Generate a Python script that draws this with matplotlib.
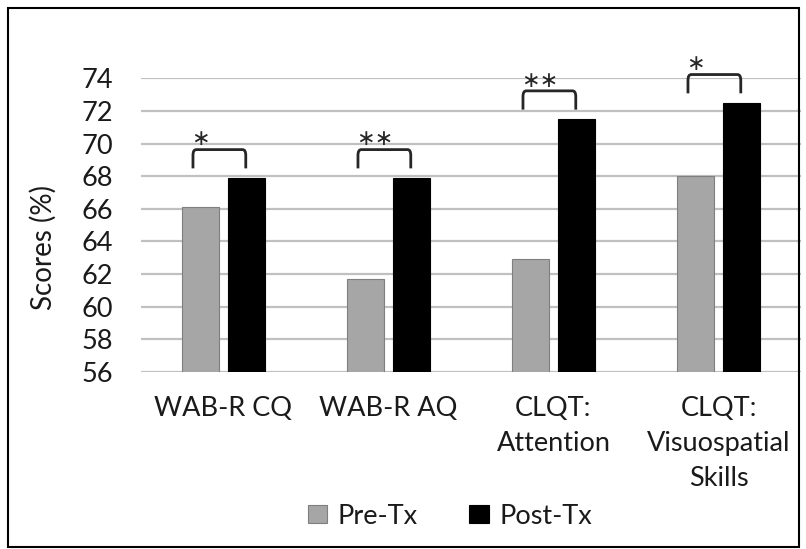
import numpy as np
import matplotlib.pyplot as plt
from matplotlib.path import Path
from matplotlib.patches import PathPatch, Rectangle

categories = ["WAB-R CQ", "WAB-R AQ", "CLQT:\nAttention", "CLQT:\nVisuospatial\nSkills"]
pre_tx = [66.1, 61.7, 62.9, 68.0]
post_tx = [67.9, 67.9, 71.5, 72.5]
stars = ["*", "**", "**", "*"]
yticks = list(range(56, 76, 2))

plt.rcParams['font.family'] = ['Lato', 'DejaVu Sans']

fig = plt.figure(figsize=(8.06, 5.49), dpi=100)
ax = fig.add_axes([141/806, 1-372/549, 660/806, (372-78.3)/549])

x = np.arange(len(categories))
w = 0.225
off = 0.142
ax.bar(x - off, pre_tx, w, bottom=0, color='#a6a6a6', edgecolor='#7f7f7f', lw=0.8,
       label='Pre-Tx', zorder=3)
ax.bar(x + off, post_tx, w, bottom=0, color='black', edgecolor='black', lw=0.8,
       label='Post-Tx', zorder=3)

ax.set_ylim(56, 74)
ax.set_xlim(-0.5, 3.5)
ax.set_yticks(yticks)
ax.yaxis.grid(True, color='#c0c0c0', lw=1.6, zorder=0)
ax.set_axisbelow(True)
for s in ax.spines.values():
    s.set_visible(False)
ax.tick_params(axis='both', length=0, labelsize=19.5, colors='#1a1a1a')
ax.tick_params(axis='y', pad=20)
ax.tick_params(axis='x', pad=17.5)
ax.set_xticks(x)
ax.set_xticklabels(categories, linespacing=1.5)

# significance brackets
for xi, top, st in zip(x, post_tx, stars):
    x0, x1 = xi - 0.185, xi + 0.135
    yb = top + 0.58
    yt = yb + 1.15
    r = 0.35
    dx = 0.02
    verts = [(x0, yb), (x0, yt - r), (x0, yt), (x0 + dx, yt),
             (x1 - dx, yt), (x1, yt), (x1, yt - r), (x1, yb)]
    codes = [Path.MOVETO, Path.LINETO, Path.CURVE3, Path.CURVE3,
             Path.LINETO, Path.CURVE3, Path.CURVE3, Path.LINETO]
    ax.add_patch(PathPatch(Path(verts, codes), fill=False, lw=2, color='#262626',
                           clip_on=False, zorder=4))
    ax.text(x0 - 0.01, yt + 0.02, st.replace("*", "\u2217"), ha='left', va='bottom', fontsize=16,
            family=['DejaVu Sans'], color='#262626', clip_on=False)

fig.text(43/806, 1-247/549, "Scores (%)", rotation=90, ha='center', va='center',
         fontsize=20, color='#1a1a1a')

fig.legend(loc='center', bbox_to_anchor=(450/806, 1-516/549), ncol=2, frameon=False,
           fontsize=19.5, handlelength=0.72, handleheight=0.68, handletextpad=0.4,
           columnspacing=1.9, labelcolor='#1a1a1a')

fig.patches.append(Rectangle((8/806, 1-547/549), 791/806, 539/549, transform=fig.transFigure,
                             fill=False, edgecolor='black', lw=1.5))

fig.savefig("out.png", dpi=100)
